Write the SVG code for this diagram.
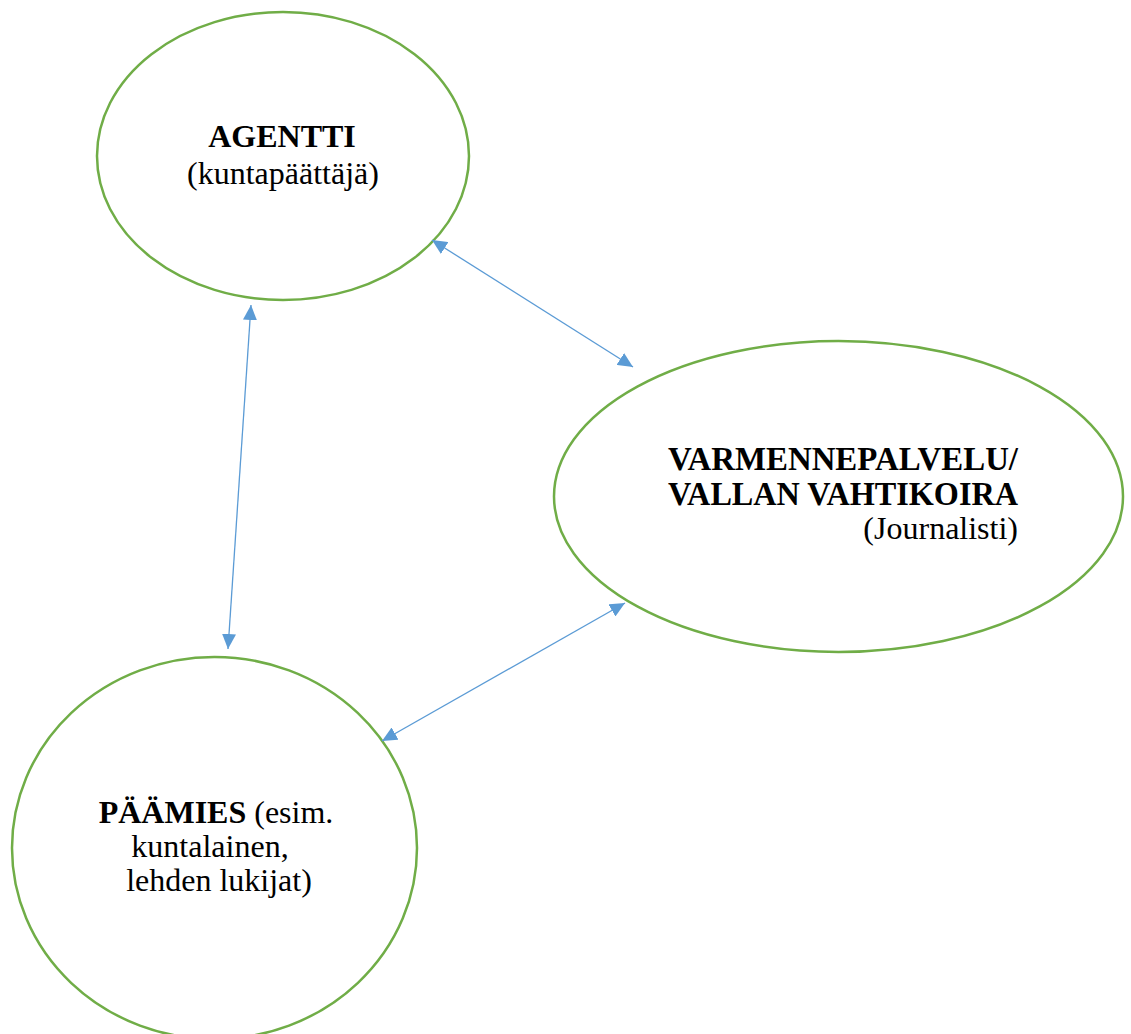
<svg xmlns="http://www.w3.org/2000/svg" width="1131" height="1034" viewBox="0 0 1131 1034">
<style>
.node{fill:#fff;stroke:#70AD47;stroke-width:2.5}
.conn{stroke:#5B9BD5;stroke-width:1.3;fill:none;marker-start:url(#ah);marker-end:url(#ah)}
text{font-family:"Liberation Serif","Times New Roman",serif;font-size:32px;fill:#000}
.b{font-weight:bold}
.big{font-size:33px}
</style>
<defs>
<marker id="ah" viewBox="0 0 10 10" refX="10" refY="5" markerWidth="15" markerHeight="14" markerUnits="userSpaceOnUse" orient="auto-start-reverse" preserveAspectRatio="none">
<path d="M0,0 L10,5 L0,10 z" fill="#5B9BD5"/>
</marker>
</defs>
<rect width="1131" height="1034" fill="#fff"/>
<g id="agentti">
<ellipse class="node" cx="283" cy="156" rx="186" ry="144"/>
<text class="b" x="282" y="147" text-anchor="middle">AGENTTI</text>
<text x="283" y="184" text-anchor="middle">(kuntapäättäjä)</text>
</g>
<g id="varmennepalvelu">
<ellipse class="node" cx="838.5" cy="496.5" rx="284.5" ry="155.5"/>
<text class="b big" x="668" y="470" textLength="350" lengthAdjust="spacingAndGlyphs">VARMENNEPALVELU/</text>
<text class="b big" x="668" y="505" textLength="350" lengthAdjust="spacingAndGlyphs">VALLAN VAHTIKOIRA</text>
<text x="1018" y="539" text-anchor="end">(Journalisti)</text>
</g>
<g id="paamies">
<ellipse class="node" cx="214.5" cy="848" rx="202.5" ry="191"/>
<text x="216" y="823" text-anchor="middle"><tspan class="b">PÄÄMIES</tspan> (esim.</text>
<text x="210" y="857" text-anchor="middle">kuntalainen,</text>
<text x="219" y="891" text-anchor="middle">lehden lukijat)</text>
</g>
<g id="connectors">
<line class="conn" x1="251" y1="305" x2="228" y2="649"/>
<line class="conn" x1="432" y1="240" x2="633" y2="367"/>
<line class="conn" x1="625" y1="603" x2="382" y2="741"/>
</g>
</svg>
